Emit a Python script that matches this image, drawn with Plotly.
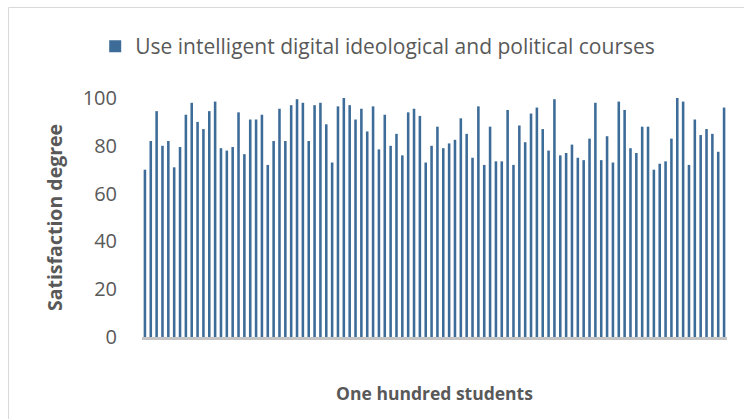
import plotly.graph_objects as go

students = list(range(1, 101))
satisfaction = [
    70, 82, 94.5, 80, 82, 71, 79.5, 93, 98, 90, 87, 94.5, 98.5, 79, 78, 79.5, 94, 76.5, 91, 91, 93, 72, 82, 95.5, 82,
    97, 99.5, 98, 82, 97, 98, 89, 73, 96.5, 100, 97, 91, 95.5, 86, 96.5, 78.5, 93, 80, 85, 76, 94, 95.5, 92.5, 73, 80,
    88, 79, 81, 82.5, 91.5, 85, 75, 96.5, 72, 88, 73.5, 73.5, 95, 72, 88.5, 81.5, 93.5, 96, 87, 78, 99.5, 76, 77, 80.5, 75,
    74, 83, 98, 74, 84, 73, 98.5, 95, 79, 77, 88, 88, 70, 72.5, 73.5, 83, 100, 98.5, 72, 91, 84.5, 87, 85, 77.5, 96,
]
series_name = "Use intelligent digital ideological and political courses"
y_ticks = [0, 20, 40, 60, 80, 100]

FONT = "Open Sans"
GREY = "#595959"

fig = go.Figure()
fig.add_trace(go.Bar(
    x=students, y=satisfaction, name=series_name,
    marker=dict(color="#3E6C98", line=dict(width=0)),
    showlegend=True,
))

fig.update_layout(
    width=744, height=419,
    margin=dict(l=142, r=17, t=98, b=82, autoexpand=False),
    paper_bgcolor="white", plot_bgcolor="white",
    font=dict(family=FONT, color=GREY, size=17),
    bargap=0.56,
    showlegend=True,
    legend=dict(
        orientation="h", x=-0.08, xanchor="left", y=1.215, yanchor="middle",
        font=dict(size=21, color=GREY, family=FONT),
        itemwidth=30, bgcolor="rgba(0,0,0,0)",
    ),
    xaxis=dict(
        type="category", showticklabels=False, ticks="",
        showline=True, linecolor="#C4C4C4", linewidth=3,
        showgrid=False, zeroline=False,
        title=dict(text="<b>One hundred students</b>", font=dict(size=17.5, color=GREY, family=FONT), standoff=49),
    ),
    yaxis=dict(
        range=[0, 100], tickvals=y_ticks, showgrid=False, zeroline=False,
        showline=False, ticks="", ticklabelstandoff=24,
        tickfont=dict(size=20, color=GREY, family=FONT),
        title=dict(text="<b>Satisfaction degree</b>", font=dict(size=19.5, color=GREY, family=FONT), standoff=14),
    ),
)

fig.add_shape(
    type="rect", xref="paper", yref="paper",
    x0=-0.2282, x1=1.05, y0=-0.45, y1=1.3787,
    line=dict(color="#D9D9D9", width=1), fillcolor="rgba(0,0,0,0)", layer="below",
)

fig.write_html(
    "out.html",
    config={"displayModeBar": False},
    post_script="document.body.style.margin='0';document.body.style.padding='0';",
)
